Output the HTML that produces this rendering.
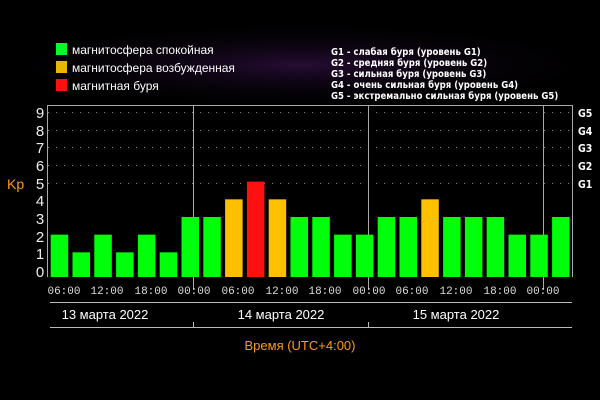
<!DOCTYPE html>
<html><head><meta charset="utf-8"><style>
html,body{margin:0;padding:0;background:#000;}
body{width:600px;height:400px;overflow:hidden;position:relative;}
</style></head><body>
<svg width="600" height="400" xmlns="http://www.w3.org/2000/svg" style="position:absolute;left:0;top:0">
<defs>
<radialGradient id="haze" cx="0.5" cy="0.5" r="0.5">
<stop offset="0" stop-color="#2a0e3a" stop-opacity="0.9"/>
<stop offset="1" stop-color="#000" stop-opacity="0"/>
</radialGradient>
</defs>
<rect width="600" height="400" fill="#000"/>
<ellipse cx="300" cy="65" rx="320" ry="45" fill="url(#haze)"/>
<g font-family="Liberation Sans, DejaVu Sans, sans-serif">
<rect x="56" y="43" width="11" height="12" fill="#00ff2a"/>
<rect x="56" y="61" width="11" height="12" fill="#e6b800"/>
<rect x="56" y="79" width="11" height="12" fill="#ff1010"/>
<text x="72" y="54" font-size="12" fill="#fff">магнитосфера спокойная</text>
<text x="72" y="72" font-size="12" fill="#fff">магнитосфера возбужденная</text>
<text x="72" y="90" font-size="12" fill="#fff">магнитная буря</text>
<g font-size="9.5" font-family="DejaVu Sans Condensed, DejaVu Sans, sans-serif" font-weight="bold" fill="#fff">
<text x="331" y="55">G1 - слабая буря (уровень G1)</text>
<text x="331" y="66">G2 - средняя буря (уровень G2)</text>
<text x="331" y="77">G3 - сильная буря (уровень G3)</text>
<text x="331" y="88">G4 - очень сильная буря (уровень G4)</text>
<text x="331" y="99">G5 - экстремально сильная буря (уровень G5)</text>
</g>
<g stroke="#888" stroke-width="1" stroke-dasharray="1,7">
<line x1="48" y1="112.5" x2="572" y2="112.5"/>
<line x1="48" y1="130.5" x2="572" y2="130.5"/>
<line x1="48" y1="147.5" x2="572" y2="147.5"/>
<line x1="48" y1="165.5" x2="572" y2="165.5"/>
<line x1="48" y1="183.5" x2="572" y2="183.5"/>
</g>
<g stroke="#aaa" stroke-width="1" fill="none">
<path d="M47.5,277 V105.5 H572.5 V277"/>
<line x1="193.5" y1="105" x2="193.5" y2="290"/>
<line x1="368.5" y1="105" x2="368.5" y2="290"/>
<line x1="543.5" y1="105" x2="543.5" y2="290"/>
</g>
<g id="bars"></g>
<g fill="#eee" font-size="15" text-anchor="middle">
<text x="40" y="118">9</text><text x="40" y="136">8</text><text x="40" y="153">7</text><text x="40" y="171">6</text><text x="40" y="189">5</text><text x="40" y="206">4</text><text x="40" y="224">3</text><text x="40" y="242">2</text><text x="40" y="259">1</text><text x="40" y="277">0</text>
</g>
<g fill="#fff" font-size="10.5" font-family="DejaVu Sans Condensed, DejaVu Sans, sans-serif" font-weight="bold">
<text x="578" y="117">G5</text><text x="578" y="135">G4</text><text x="578" y="152">G3</text><text x="578" y="170">G2</text><text x="578" y="188">G1</text>
</g>
<text x="7" y="189" font-size="14" fill="#ff9a1a">Kp</text>
<g fill="#ddd" font-size="11" font-family="Liberation Mono, monospace" text-anchor="middle">
<text x="64" y="294">06:00</text><text x="107" y="294">12:00</text><text x="151" y="294">18:00</text><text x="194" y="294">00:00</text>
<text x="238" y="294">06:00</text><text x="282" y="294">12:00</text><text x="325" y="294">18:00</text><text x="369" y="294">00:00</text>
<text x="412" y="294">06:00</text><text x="456" y="294">12:00</text><text x="500" y="294">18:00</text><text x="543" y="294">00:00</text>
</g>
<g stroke="#bbb" stroke-width="1">
<line x1="50" y1="302.5" x2="572" y2="302.5"/>
<line x1="50" y1="327.5" x2="572" y2="327.5"/>
<line x1="193.5" y1="322" x2="193.5" y2="327"/>
<line x1="368.5" y1="322" x2="368.5" y2="327"/>
</g>
<g fill="#fff" font-size="13" text-anchor="middle">
<text x="105" y="319">13 марта 2022</text>
<text x="281" y="319">14 марта 2022</text>
<text x="456" y="319">15 марта 2022</text>
</g>
<text x="300" y="350" font-size="13" fill="#ff9a1a" text-anchor="middle">Время (UTC+4:00)</text>
</g>
</svg>
<script>
var v=[2,1,2,1,2,1,3,3,4,5,4,3,3,2,2,3,3,4,3,3,3,2,2,3];
var g=document.getElementById('bars'),s='';
v.forEach(function(k,i){var c=k>=5?'#ff1010':(k==4?'#ffc000':'#00ff0a');var top=270-17.67*k;
s+='<rect x="'+(50.7+21.8*i)+'" y="'+top+'" width="17.5" height="'+(277-top)+'" fill="'+c+'"/>';});
g.innerHTML=s;
</script>
</body></html>
